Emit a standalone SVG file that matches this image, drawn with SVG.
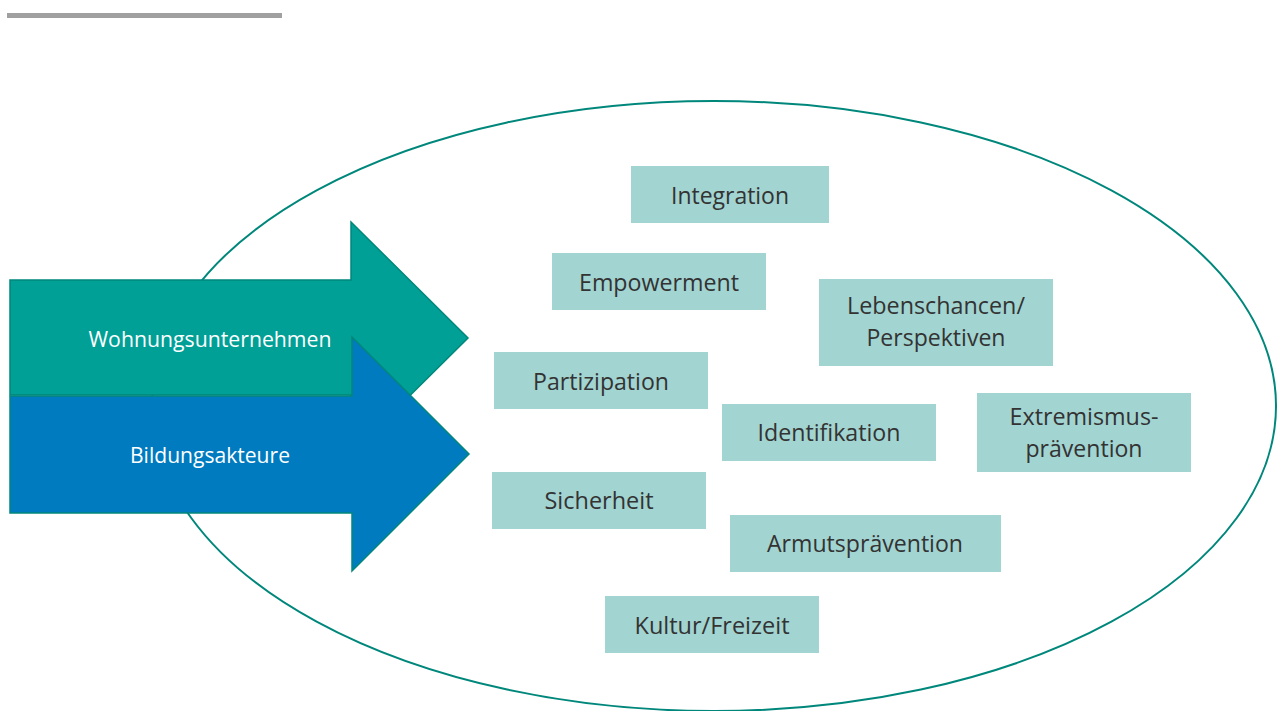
<svg xmlns="http://www.w3.org/2000/svg" width="1277" height="711" viewBox="0 0 1277 711">
<style>
.box{fill:#A2D4D2}
.bt{font-family:"Open Sans","Noto Sans","Liberation Sans",sans-serif;font-size:23px;fill:#333333;text-anchor:middle}
.at{font-family:"Open Sans","Noto Sans","Liberation Sans",sans-serif;font-size:21px;fill:#FFFFFF;text-anchor:middle}
</style>
<rect width="1277" height="711" fill="#FFFFFF"/>
<rect x="7" y="13" width="275" height="5" fill="#A0A0A0"/>
<ellipse id="ellipse" cx="714" cy="406" rx="562" ry="305" fill="none" stroke="#00877B" stroke-width="2"/>
<g id="arrow-wohnungsunternehmen">
<polygon points="10,280 351,280 351,222 468,338 351,454 351,395 10,395" fill="#00A096" stroke="#00877B" stroke-width="1.5"/>
<text class="at" x="210" y="347" textLength="243" lengthAdjust="spacingAndGlyphs">Wohnungsunternehmen</text>
</g>
<g id="arrow-bildungsakteure">
<polygon points="10,396 352,396 352,337 469,454 352,571 352,513 10,513" fill="#007BBF" stroke="#00877B" stroke-width="1.5"/>
<text class="at" x="210" y="463" textLength="160" lengthAdjust="spacingAndGlyphs">Bildungsakteure</text>
</g>
<g id="integration">
<rect class="box" x="631" y="166" width="198" height="57"/>
<text class="bt" x="730" y="204" textLength="118" lengthAdjust="spacingAndGlyphs">Integration</text>
</g>
<g id="empowerment">
<rect class="box" x="552" y="253" width="214" height="57"/>
<text class="bt" x="659" y="291" textLength="160" lengthAdjust="spacingAndGlyphs">Empowerment</text>
</g>
<g id="lebenschancen">
<rect class="box" x="819" y="279" width="234" height="87"/>
<text class="bt" x="936" y="314" textLength="178" lengthAdjust="spacingAndGlyphs">Lebenschancen/</text>
<text class="bt" x="936" y="346" textLength="139" lengthAdjust="spacingAndGlyphs">Perspektiven</text>
</g>
<g id="partizipation">
<rect class="box" x="494" y="352" width="214" height="57"/>
<text class="bt" x="601" y="390" textLength="136" lengthAdjust="spacingAndGlyphs">Partizipation</text>
</g>
<g id="identifikation">
<rect class="box" x="722" y="404" width="214" height="57"/>
<text class="bt" x="829" y="441" textLength="143" lengthAdjust="spacingAndGlyphs">Identifikation</text>
</g>
<g id="extremismuspraevention">
<rect class="box" x="977" y="393" width="214" height="79"/>
<text class="bt" x="1084" y="425" textLength="149" lengthAdjust="spacingAndGlyphs">Extremismus-</text>
<text class="bt" x="1084" y="457" textLength="117" lengthAdjust="spacingAndGlyphs">prävention</text>
</g>
<g id="sicherheit">
<rect class="box" x="492" y="472" width="214" height="57"/>
<text class="bt" x="599" y="509" textLength="109" lengthAdjust="spacingAndGlyphs">Sicherheit</text>
</g>
<g id="armutspraevention">
<rect class="box" x="730" y="515" width="271" height="57"/>
<text class="bt" x="865" y="552" textLength="196" lengthAdjust="spacingAndGlyphs">Armutsprävention</text>
</g>
<g id="kultur">
<rect class="box" x="605" y="596" width="214" height="57"/>
<text class="bt" x="712" y="634" textLength="155" lengthAdjust="spacingAndGlyphs">Kultur/Freizeit</text>
</g>
</svg>
